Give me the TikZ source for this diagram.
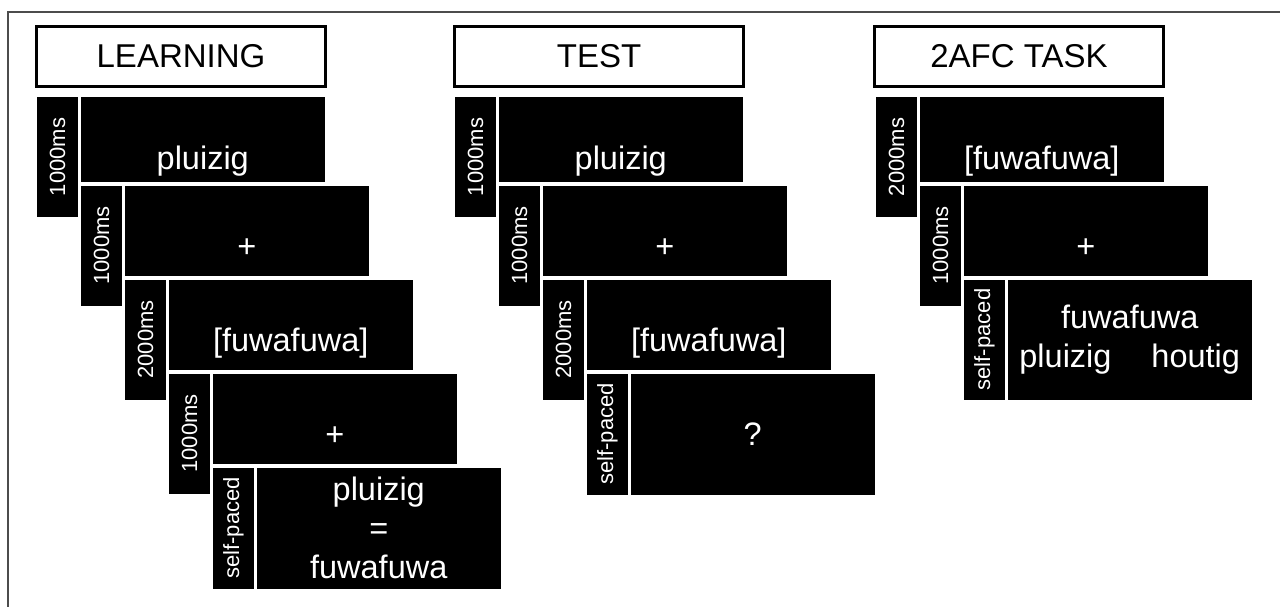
\documentclass[tikz,border=0pt]{standalone}
\usepackage{fontspec}
\setmainfont{Liberation Sans}
\usepackage{graphicx}
\usetikzlibrary{positioning}

\begin{document}
\begin{tikzpicture}[
    x = 1pt, y = 1pt, % one unit per pixel
    node distance = 3pt, % gap between boxes
    title/.style = {draw, line width = 3pt, fill = white, minimum width = 289pt,
        minimum height = 60pt, inner sep = 0pt, font = \fontsize{33}{40}\selectfont},
    cue/.style = {fill = black, text = white, minimum width = 41pt, minimum height = 120pt,
        inner sep = 0pt, outer sep = 0pt, font = \fontsize{22}{26}\selectfont},
    screen/.style = {fill = black, text = white, minimum width = 243.5pt, inner sep = 0pt,
        outer sep = 0pt, text height = 72pt, text depth = #1, font = \fontsize{32.5}{39}\selectfont},
    screen/.default = 18.5pt,
    response/.style = {fill = black, text = white, minimum width = 243.5pt, minimum height = 121pt,
        inner sep = 0pt, outer sep = 0pt, align = center, font = \fontsize{32.5}{39}\selectfont}
    ]

    \useasboundingbox (0,0) rectangle (1280,-607);
    \draw[line width = 1.5pt, black!70] (1280,-12) -- (8,-12) -- (8,-607);

    % learning
    \node[title] (learn) at (181,-56.5) {LEARNING};
    \node[cue, below right = 9pt and 2pt of learn.south west] (lc1) {\rotatebox{90}{1000ms}};
    \node[screen = 13pt, below right = 0pt and 3pt of lc1.north east] (ls1) {pluizig};
    \node[cue, below right = 3.5pt and 0pt of ls1.south west] (lc2) {\rotatebox{90}{1000ms}};
    \node[screen, below right = 0pt and 3pt of lc2.north east] (ls2) {+};
    \node[cue, below right = 3.5pt and 0pt of ls2.south west] (lc3) {\rotatebox{90}{2000ms}};
    \node[screen, below right = 0pt and 3pt of lc3.north east] (ls3) {[fuwafuwa]};
    \node[cue, below right = 3.5pt and 0pt of ls3.south west] (lc4) {\rotatebox{90}{1000ms}};
    \node[screen, below right = 0pt and 3pt of lc4.north east] (ls4) {+};
    \node[cue, minimum height = 121pt, below right = 3.5pt and 0pt of ls4.south west] (lc5) {\rotatebox{90}{self-paced}};
    \node[response, below right = 0pt and 3pt of lc5.north east] (ls5) {pluizig\\=\\fuwafuwa};

    % test
    \node[title] (test) at (599,-56.5) {TEST};
    \node[cue, below right = 9pt and 2pt of test.south west] (tc1) {\rotatebox{90}{1000ms}};
    \node[screen = 13pt, below right = 0pt and 3pt of tc1.north east] (ts1) {pluizig};
    \node[cue, below right = 3.5pt and 0pt of ts1.south west] (tc2) {\rotatebox{90}{1000ms}};
    \node[screen, below right = 0pt and 3pt of tc2.north east] (ts2) {+};
    \node[cue, below right = 3.5pt and 0pt of ts2.south west] (tc3) {\rotatebox{90}{2000ms}};
    \node[screen, below right = 0pt and 3pt of tc3.north east] (ts3) {[fuwafuwa]};
    \node[cue, minimum height = 121pt, below right = 3.5pt and 0pt of ts3.south west] (tc4) {\rotatebox{90}{self-paced}};
    \node[response, below right = 0pt and 3pt of tc4.north east] (ts4) {?};

    % 2AFC task
    \node[title] (afc) at (1019,-56.5) {2AFC TASK};
    \node[cue, below right = 9pt and 3pt of afc.south west] (ac1) {\rotatebox{90}{2000ms}};
    \node[screen = 13pt, below right = 0pt and 3pt of ac1.north east] (as1) {[fuwafuwa]};
    \node[cue, below right = 3.5pt and 0pt of as1.south west] (ac2) {\rotatebox{90}{1000ms}};
    \node[screen, below right = 0pt and 3pt of ac2.north east] (as2) {+};
    \node[cue, below right = 3.5pt and 0pt of as2.south west] (ac3) {\rotatebox{90}{self-paced}};
    \node[response, minimum height = 120pt, below right = 0pt and 3pt of ac3.north east] (as3) {fuwafuwa\\pluizig\hspace{40pt}houtig};
\end{tikzpicture}
\end{document}
